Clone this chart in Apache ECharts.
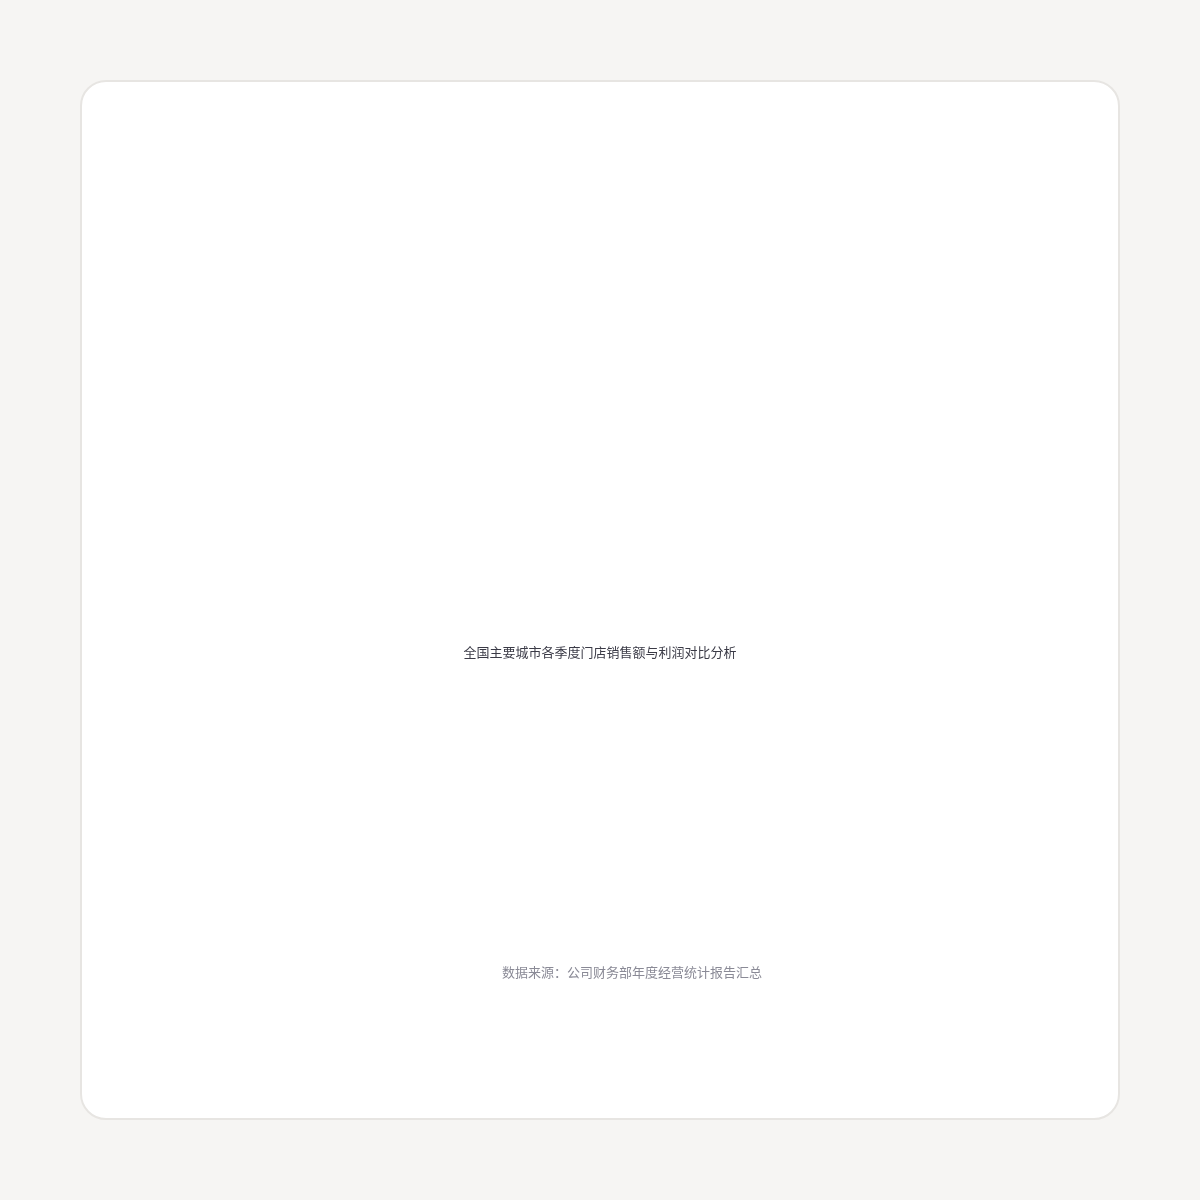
<!DOCTYPE html>
<html>
<head>
<meta charset="utf-8">
<title>chart</title>
<script src="https://cdn.jsdelivr.net/npm/echarts@6/dist/echarts.min.js"></script>
<style>
  html, body { margin: 0; padding: 0; background: #f6f5f3; }
  #card {
    position: absolute; left: 80px; top: 80px; width: 1040px; height: 1040px;
    box-sizing: border-box; background: #ffffff; border: 2px solid #e7e5e2; border-radius: 26px;
  }
  #main { position: absolute; left: 0; top: 0; width: 1200px; height: 1200px; }
</style>
</head>
<body>
<div id="card"></div>
<div id="main"></div>
<script>
// the only two texts visible on the card
var titleText = '全国主要城市各季度门店销售额与利润对比分析';
var noteText = '数据来源：公司财务部年度经营统计报告汇总';

var myChart = echarts.init(document.getElementById('main'), null, { renderer: 'canvas' });

var option = {
    backgroundColor: 'transparent',
    graphic: [
        {
            type: 'text',
            x: 600,
            y: 652,
            style: {
                text: titleText,
                fill: '#3a3a46',
                fontSize: 13,
                fontFamily: '"Noto Sans CJK SC", sans-serif',
                align: 'center',
                verticalAlign: 'middle'
            }
        },
        {
            type: 'text',
            x: 632,
            y: 972,
            style: {
                text: noteText,
                fill: '#8a8a96',
                fontSize: 13,
                fontFamily: '"Noto Sans CJK SC", sans-serif',
                align: 'center',
                verticalAlign: 'middle'
            }
        }
    ]
};

myChart.setOption(option);
</script>
</body>
</html>
